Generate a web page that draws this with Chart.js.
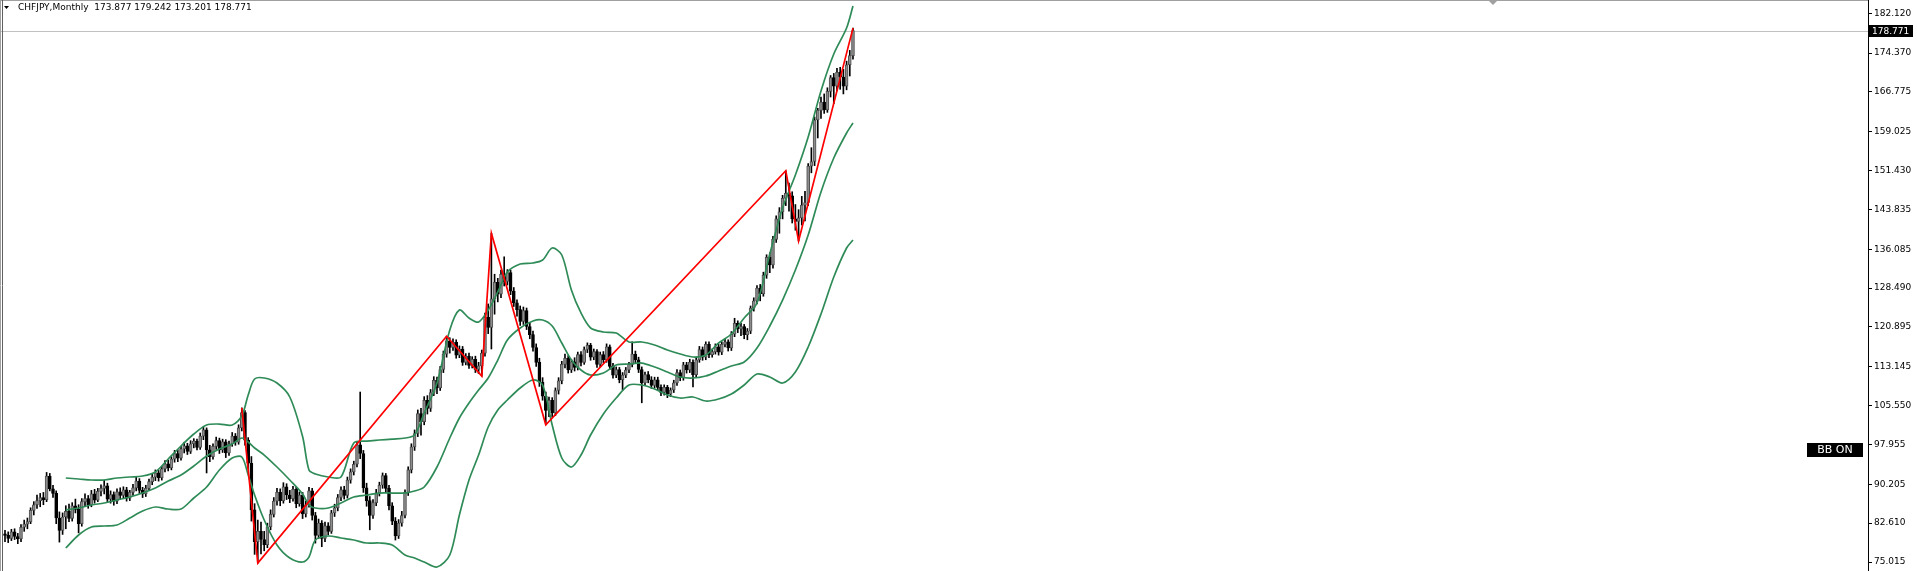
<!DOCTYPE html>
<html>
<head>
<meta charset="utf-8">
<title>CHFJPY,Monthly</title>
<script src="https://cdn.jsdelivr.net/npm/chart.js@4.4.1/dist/chart.umd.min.js"></script>
<style>
  html, body { margin: 0; padding: 0; background: #fff; overflow: hidden; }
  canvas { display: block; }
</style>
</head>
<body>
<canvas id="priceChart" width="1917" height="571"></canvas>
<script>
// CHFJPY monthly candles, bar index 0 (Jan 2002) .. 265 (Jun 2024)
const opens = [
  80.5, 80.2, 79.6, 80.9, 80.0, 79.5, 81.8, 82.4, 82.9, 85.1,
  86.2, 87.0, 87.6, 87.2, 91.8, 89.3, 88.4, 83.6, 81.2, 83.8,
  84.9, 83.5, 86.0, 85.3, 82.5, 86.8, 87.4, 86.2, 88.3, 87.1,
  88.8, 89.4, 89.9, 87.3, 88.2, 86.9, 88.7, 88.0, 89.1, 87.5,
  88.6, 89.5, 90.8, 89.0, 88.3, 89.4, 90.7, 91.6, 92.4, 91.5,
  93.2, 94.2, 93.4, 95.1, 96.2, 95.3, 97.1, 97.7, 96.6, 98.1,
  98.6, 97.4, 99.6, 100.8, 96.9, 95.6, 97.6, 98.7, 96.9, 98.5,
  96.3, 98.1, 99.6, 98.4, 101.2, 104.2, 98.8, 94.3, 85.2, 79.0,
  81.0, 79.4, 78.4, 81.9, 84.3, 86.9, 88.6, 87.0, 89.7, 88.1,
  87.4, 89.2, 86.4, 88.1, 84.4, 86.2, 88.9, 84.1, 80.2, 82.6,
  79.6, 82.1, 81.0, 84.6, 85.6, 87.6, 89.1, 88.0, 91.0, 92.6,
  94.1, 97.9, 96.2, 89.5, 87.0, 84.1, 86.6, 88.5, 90.0, 91.9,
  89.4, 86.0, 83.0, 80.1, 82.6, 84.1, 88.6, 93.0, 97.5, 100.1,
  104.0, 102.4, 106.6, 105.0, 108.1, 110.5, 109.0, 112.6, 115.6, 118.2,
  116.9, 117.9, 115.4, 116.6, 114.0, 115.2, 113.4, 114.6, 112.6, 113.3,
  115.8, 122.8, 120.8, 126.4, 129.6, 127.3, 131.2, 129.8, 131.5, 127.9,
  125.6, 124.3, 122.0, 124.1, 121.0, 119.4, 116.9, 114.0, 110.1, 107.4,
  104.6, 106.6, 104.1, 108.5, 110.4, 113.6, 114.8, 112.5, 114.1, 113.0,
  115.5, 114.0, 116.5, 117.3, 115.0, 116.1, 113.6, 115.5, 114.5, 117.0,
  113.2, 111.5, 112.6, 110.6, 111.5, 112.5, 113.6, 115.6, 114.5, 112.6,
  110.0, 111.6, 110.6, 109.5, 110.6, 109.1, 108.1, 109.1, 107.8, 108.6,
  110.0, 112.0, 111.0, 113.5, 112.5, 114.0, 111.6, 114.5, 116.5, 115.0,
  117.5, 115.5, 116.1, 117.0, 116.0, 117.5, 118.0, 116.8, 119.5, 121.6,
  120.5, 121.0, 119.4, 120.1, 124.6, 126.0, 128.5, 127.4, 131.0, 134.5,
  133.0, 138.0, 142.0, 143.4, 146.0, 147.0, 146.5, 142.0, 141.5, 142.2,
  144.7, 145.2, 152.3, 153.2, 161.3, 163.2, 164.8, 163.3, 166.9, 169.6,
  167.9, 170.6, 169.7, 167.9, 172.1, 173.877
];
const highs = [
  81.2, 80.9, 81.4, 81.5, 80.6, 82.3, 83.2, 83.6, 85.6, 86.8,
  88.1, 88.4, 88.6, 92.5, 92.3, 90.0, 88.9, 84.8, 84.6, 86.0,
  86.3, 86.6, 87.3, 86.2, 87.4, 88.3, 88.0, 89.0, 89.2, 89.4,
  90.1, 91.0, 90.4, 88.9, 88.7, 89.3, 89.5, 89.7, 89.6, 89.0,
  90.2, 91.6, 91.3, 89.6, 90.0, 91.2, 92.2, 93.0, 92.9, 93.7,
  94.8, 94.9, 95.6, 96.8, 96.9, 97.6, 98.4, 98.2, 98.7, 99.1,
  99.0, 100.2, 101.4, 101.2, 97.8, 98.1, 99.4, 99.2, 99.0, 98.9,
  98.6, 100.3, 100.1, 101.8, 105.1, 104.6, 99.3, 95.6, 86.4, 83.2,
  82.8, 81.0, 82.6, 85.2, 87.6, 89.4, 89.3, 90.5, 90.3, 89.0,
  89.8, 89.7, 88.7, 88.6, 86.9, 89.6, 89.4, 84.7, 83.4, 83.1,
  82.8, 82.7, 85.1, 86.3, 88.2, 89.7, 89.8, 91.6, 93.2, 94.7,
  98.4, 108.2, 96.8, 90.4, 87.8, 87.2, 89.2, 90.6, 92.4, 92.3,
  90.0, 86.6, 83.7, 83.3, 84.9, 89.1, 93.6, 98.1, 100.8, 104.7,
  105.0, 107.3, 107.5, 108.7, 111.2, 111.1, 113.2, 116.2, 119.1, 118.8,
  118.6, 118.4, 117.2, 117.1, 115.7, 115.8, 115.1, 115.2, 114.0, 116.4,
  123.6, 125.4, 139.2, 131.2, 130.4, 132.0, 134.6, 132.1, 132.0, 128.6,
  126.2, 125.0, 124.8, 124.6, 121.8, 120.1, 117.6, 114.8, 111.0, 108.2,
  107.2, 107.1, 109.0, 111.0, 114.2, 115.6, 115.3, 114.6, 114.9, 116.0,
  116.1, 117.0, 117.8, 117.7, 116.6, 116.5, 116.0, 116.1, 117.6, 117.4,
  113.8, 113.1, 113.0, 112.0, 113.0, 114.0, 118.0, 116.2, 115.0, 113.1,
  112.1, 112.2, 111.2, 111.1, 111.1, 109.6, 109.6, 109.5, 109.0, 110.5,
  112.6, 112.5, 114.0, 114.0, 114.6, 114.5, 115.0, 117.1, 117.0, 118.0,
  118.0, 116.6, 117.6, 117.5, 118.0, 118.6, 118.4, 120.0, 122.6, 122.1,
  121.6, 121.4, 120.6, 125.0, 126.6, 129.0, 129.2, 131.6, 135.0, 135.4,
  138.6, 142.6, 144.2, 146.6, 151.4, 149.0, 147.3, 144.8, 143.8, 146.4,
  147.4, 152.8, 155.9, 161.9, 163.6, 165.8, 166.4, 167.6, 170.0, 170.4,
  171.4, 171.6, 171.2, 172.8, 174.9, 179.242
];
const lows = [
  79.0, 78.8, 79.2, 79.4, 78.6, 79.0, 81.0, 81.5, 82.5, 84.2,
  85.5, 85.8, 86.2, 86.8, 88.9, 87.6, 82.5, 78.9, 80.4, 81.5,
  82.9, 83.0, 84.6, 80.7, 82.0, 85.9, 85.5, 85.8, 86.5, 86.8,
  87.9, 88.3, 86.6, 86.5, 86.1, 86.4, 87.2, 87.5, 86.9, 87.0,
  88.0, 88.9, 88.4, 87.6, 87.8, 89.0, 90.1, 90.9, 90.8, 91.0,
  92.6, 92.8, 93.0, 94.5, 94.6, 94.9, 96.3, 96.0, 96.2, 97.3,
  96.9, 97.0, 98.9, 92.4, 94.6, 95.1, 97.0, 96.2, 96.4, 95.4,
  95.8, 97.6, 97.8, 98.0, 100.6, 97.8, 93.2, 83.0, 76.5, 74.8,
  76.6, 77.2, 77.8, 81.3, 83.8, 86.1, 86.0, 86.5, 87.2, 86.6,
  86.9, 85.6, 85.9, 83.5, 83.8, 85.7, 83.2, 78.7, 79.6, 78.0,
  79.0, 80.3, 80.6, 83.9, 85.0, 87.0, 87.3, 87.5, 90.4, 92.0,
  93.6, 95.2, 88.6, 85.9, 81.3, 83.5, 86.0, 87.9, 89.4, 88.7,
  85.2, 82.3, 79.3, 79.6, 82.0, 83.6, 88.0, 92.4, 96.8, 99.5,
  99.8, 101.8, 103.9, 104.4, 107.5, 107.9, 108.5, 112.0, 115.0, 115.8,
  116.3, 114.8, 114.9, 113.4, 113.5, 112.8, 112.9, 112.0, 111.8, 111.3,
  115.2, 119.6, 116.6, 123.4, 125.8, 126.6, 128.9, 129.1, 127.2, 124.9,
  123.0, 121.2, 121.4, 120.4, 118.6, 116.2, 113.2, 109.3, 106.6, 101.8,
  103.4, 103.3, 103.6, 107.8, 109.8, 112.9, 111.9, 112.0, 112.3, 112.5,
  113.3, 113.6, 115.9, 114.4, 114.5, 113.0, 113.1, 113.9, 114.0, 112.6,
  110.9, 111.0, 110.0, 108.6, 111.0, 112.0, 113.1, 113.9, 112.0, 106.1,
  109.5, 110.0, 108.9, 109.0, 108.5, 107.5, 107.6, 107.1, 107.3, 108.1,
  109.5, 110.4, 110.5, 111.9, 112.0, 109.2, 111.1, 114.0, 114.4, 114.5,
  114.9, 115.0, 115.6, 115.4, 115.5, 117.0, 116.2, 116.3, 119.0, 119.8,
  119.2, 118.6, 118.4, 119.6, 124.0, 125.4, 126.0, 126.9, 130.4, 131.5,
  132.4, 137.4, 139.2, 142.0, 144.6, 143.5, 141.2, 139.8, 137.7, 140.8,
  141.6, 144.6, 151.0, 152.4, 157.8, 161.6, 162.6, 162.8, 165.8, 164.5,
  167.0, 167.3, 166.4, 167.2, 169.9, 173.201
];
const closes = [
  80.2, 79.6, 80.9, 80.0, 79.5, 81.8, 82.4, 82.9, 85.1, 86.2,
  87.0, 87.6, 87.2, 91.8, 89.3, 88.4, 83.6, 81.2, 83.8, 84.9,
  83.5, 86.0, 85.3, 82.5, 86.8, 87.4, 86.2, 88.3, 87.1, 88.8,
  89.4, 89.9, 87.3, 88.2, 86.9, 88.7, 88.0, 89.1, 87.5, 88.6,
  89.5, 90.8, 89.0, 88.3, 89.4, 90.7, 91.6, 92.4, 91.5, 93.2,
  94.2, 93.4, 95.1, 96.2, 95.3, 97.1, 97.7, 96.6, 98.1, 98.6,
  97.4, 99.6, 100.8, 96.9, 95.6, 97.6, 98.7, 96.9, 98.5, 96.3,
  98.1, 99.6, 98.4, 101.2, 104.2, 98.8, 94.3, 85.2, 79.0, 81.0,
  79.4, 78.4, 81.9, 84.3, 86.9, 88.6, 87.0, 89.7, 88.1, 87.4,
  89.2, 86.4, 88.1, 84.4, 86.2, 88.9, 84.1, 80.2, 82.6, 79.6,
  82.1, 81.0, 84.6, 85.6, 87.6, 89.1, 88.0, 91.0, 92.6, 94.1,
  97.9, 96.2, 89.5, 87.0, 84.1, 86.6, 88.5, 90.0, 91.9, 89.4,
  86.0, 83.0, 80.1, 82.6, 84.1, 88.6, 93.0, 97.5, 100.1, 104.0,
  102.4, 106.6, 105.0, 108.1, 110.5, 109.0, 112.6, 115.6, 118.2, 116.9,
  117.9, 115.4, 116.6, 114.0, 115.2, 113.4, 114.6, 112.6, 113.3, 115.8,
  122.8, 120.8, 126.4, 129.6, 127.3, 131.2, 129.8, 131.5, 127.9, 125.6,
  124.3, 122.0, 124.1, 121.0, 119.4, 116.9, 114.0, 110.1, 107.4, 104.6,
  106.6, 104.1, 108.5, 110.4, 113.6, 114.8, 112.5, 114.1, 113.0, 115.5,
  114.0, 116.5, 117.3, 115.0, 116.1, 113.6, 115.5, 114.5, 117.0, 113.2,
  111.5, 112.6, 110.6, 111.5, 112.5, 113.6, 115.6, 114.5, 112.6, 110.0,
  111.6, 110.6, 109.5, 110.6, 109.1, 108.1, 109.1, 107.8, 108.6, 110.0,
  112.0, 111.0, 113.5, 112.5, 114.0, 111.6, 114.5, 116.5, 115.0, 117.5,
  115.5, 116.1, 117.0, 116.0, 117.5, 118.0, 116.8, 119.5, 121.6, 120.5,
  121.0, 119.4, 120.1, 124.6, 126.0, 128.5, 127.4, 131.0, 134.5, 133.0,
  138.0, 142.0, 143.4, 146.0, 147.0, 146.5, 142.0, 141.5, 142.2, 144.7,
  145.2, 152.3, 153.2, 161.3, 163.2, 164.8, 163.3, 166.9, 169.6, 167.9,
  170.6, 169.7, 167.9, 172.1, 173.877, 178.771
];

// Bollinger Bands (20) at these bar indexes
const bbIndex = [
  19, 23, 27, 31, 35, 39, 43, 47, 51, 55,
  59, 63, 67, 71, 74, 76, 78, 81, 85, 89,
  93, 95, 97, 101, 105, 109, 113, 117, 121, 125,
  128, 131, 135, 139, 142, 145, 148, 151, 154, 157,
  161, 165, 168, 171, 174, 177, 180, 183, 187, 191,
  195, 199, 203, 207, 211, 215, 219, 223, 227, 231,
  235, 239, 243, 247, 251, 255, 259, 263, 265
];
const bbUpper = [
  91.41, 91.22, 91.02, 91.02, 91.41, 91.61, 91.80, 92.59, 95.12, 97.66,
  100.00, 101.76, 101.95, 101.76, 103.52, 107.62, 110.74, 110.94, 109.96, 107.23,
  99.5, 92.97, 92.19, 91.61, 91.61, 98.24, 98.63, 98.83, 99.02, 99.22,
  99.8, 104.10, 109.96, 120.31, 124.21, 122.65, 121.87, 124.21, 127.73, 131.63,
  133.19, 133.39, 133.97, 136.32, 134.95, 128.12, 123.63, 120.70, 119.92, 119.72,
  117.97, 117.97, 117.38, 116.40, 115.62, 115.04, 115.43, 117.77, 119.53, 122.65,
  125.58, 135.15, 144.13, 150.57, 157.99, 166.97, 174.19, 179.27, 183.56
];
const bbMiddle = [
  85.16, 85.56, 86.14, 86.53, 87.12, 87.70, 88.48, 89.46, 90.82, 92.00,
  93.75, 95.71, 97.07, 98.05, 99.22, 98.44, 97.27, 95.90, 93.56, 91.02,
  88.29, 86.14, 85.56, 85.56, 86.53, 87.70, 88.09, 88.48, 88.48, 88.48,
  88.87, 89.65, 93.56, 99.22, 103.13, 106.05, 108.59, 110.94, 114.45, 118.35,
  120.70, 122.07, 122.26, 121.09, 117.77, 114.45, 112.50, 111.52, 111.91, 113.47,
  113.67, 113.86, 113.08, 112.11, 111.13, 110.94, 111.33, 112.30, 113.28, 114.06,
  116.79, 121.09, 126.16, 132.02, 138.85, 147.25, 153.89, 158.77, 160.72
];
const bbLower = [
  77.75, 80.29, 81.85, 82.04, 82.24, 83.60, 84.97, 85.75, 85.36, 85.36,
  87.51, 89.65, 92.97, 95.32, 95.51, 92.00, 88.09, 83.21, 78.33, 75.79,
  75.01, 75.99, 79.31, 80.09, 79.70, 79.31, 78.72, 78.72, 78.33, 76.38,
  75.79, 75.01, 74.03, 76.38, 84.19, 91.02, 95.90, 101.37, 104.69, 106.64,
  108.99, 110.55, 109.57, 101.76, 95.32, 93.56, 95.90, 99.81, 103.91, 107.03,
  109.57, 109.57, 108.79, 107.62, 107.03, 107.23, 106.45, 106.84, 107.81, 109.57,
  111.72, 111.13, 109.96, 112.11, 116.99, 123.43, 130.65, 136.32, 137.88
];

// ZigZag pivots
const zzIndex = [74, 79, 138, 149, 152, 169, 244, 248, 265];
const zzValue = [105.1, 74.8, 119.1, 111.3, 139.2, 101.8, 151.4, 137.7, 179.242];

// price scale labels
const priceTicks = [182.120, 174.370, 166.775, 159.025, 151.430, 143.835, 136.085, 128.490,
  120.895, 113.145, 105.550, 97.955, 90.205, 82.610, 75.015];

const symbolName = 'CHFJPY,Monthly';
const bbTag = 'BB ON';

const FONT = '"DejaVu Sans", sans-serif';
const last = closes.length - 1;

const bodies = opens.map((o, i) => ({ x: i, y: [Math.min(o, closes[i]), Math.max(o, closes[i])] }));
const wicks = highs.map((h, i) => ({ x: i, y: [lows[i], h] }));
function points(xs, ys) {
  return xs.map((x, i) => ({ x: x, y: ys[i] }));
}

// terminal-like frame, title, bid line and labels
const terminalDecor = {
  id: 'terminalDecor',
  beforeDraw(chart) {
    const ctx = chart.ctx;
    ctx.save();
    ctx.fillStyle = '#ffffff';
    ctx.fillRect(0, 0, chart.width, chart.height);
    ctx.restore();
  },
  beforeDatasetsDraw(chart) {
    const ctx = chart.ctx;
    const area = chart.chartArea;
    const yb = Math.round(chart.scales.y.getPixelForValue(closes[last])) + 0.5;
    ctx.save();
    ctx.strokeStyle = '#c0c0c0';
    ctx.lineWidth = 1;
    ctx.beginPath();
    ctx.moveTo(0, yb);
    ctx.lineTo(area.right, yb);
    ctx.stroke();
    ctx.restore();
  },
  afterDraw(chart) {
    const ctx = chart.ctx;
    const area = chart.chartArea;
    const yScale = chart.scales.y;
    ctx.save();

    // frame
    ctx.lineWidth = 1;
    ctx.strokeStyle = '#a0a0a0';
    ctx.beginPath();
    ctx.moveTo(0, 0.5);
    ctx.lineTo(area.right, 0.5);
    ctx.moveTo(0.5, 0);
    ctx.lineTo(0.5, chart.height);
    ctx.stroke();
    ctx.strokeStyle = '#606060';
    ctx.beginPath();
    ctx.moveTo(2.5, 0);
    ctx.lineTo(2.5, chart.height);
    ctx.stroke();

    // shift marker
    ctx.fillStyle = '#a0a0a0';
    ctx.beginPath();
    ctx.moveTo(1489, 1);
    ctx.lineTo(1497, 1);
    ctx.lineTo(1493, 5);
    ctx.closePath();
    ctx.fill();

    // title
    ctx.fillStyle = '#000';
    ctx.beginPath();
    ctx.moveTo(4, 6);
    ctx.lineTo(9, 6);
    ctx.lineTo(6.5, 9);
    ctx.closePath();
    ctx.fill();
    ctx.font = '9px ' + FONT;
    ctx.textBaseline = 'middle';
    ctx.textAlign = 'left';
    const title = symbolName + '  ' + opens[last].toFixed(3) + ' ' + highs[last].toFixed(3) + ' ' +
      lows[last].toFixed(3) + ' ' + closes[last].toFixed(3);
    ctx.fillText(title, 18, 8);

    // bid label
    const yb = Math.round(yScale.getPixelForValue(closes[last]));
    ctx.fillStyle = '#000';
    ctx.fillRect(area.right + 1, yb - 6, 44, 12);
    ctx.fillStyle = '#fff';
    ctx.fillText(closes[last].toFixed(3), area.right + 4, yb + 0.5);

    // BB ON tag
    ctx.fillStyle = '#000';
    ctx.fillRect(1807, 443, 56, 14);
    ctx.fillStyle = '#fff';
    ctx.font = '11px ' + FONT;
    ctx.textAlign = 'center';
    ctx.fillText(bbTag, 1835, 450.5);

    ctx.restore();
  }
};

const ctx = document.getElementById('priceChart').getContext('2d');
const priceChart = new Chart(ctx, {
  type: 'bar',
  data: {
    datasets: [
      {
        type: 'line',
        label: 'ZigZag',
        data: points(zzIndex, zzValue),
        borderColor: '#ff0000',
        borderWidth: 1.7,
        pointRadius: 0,
        tension: 0,
        order: 0
      },
      {
        type: 'line',
        label: 'BB upper',
        data: points(bbIndex, bbUpper),
        borderColor: '#2e8b57',
        borderWidth: 1.7,
        pointRadius: 0,
        tension: 0.3,
        order: 1
      },
      {
        type: 'line',
        label: 'BB middle',
        data: points(bbIndex, bbMiddle),
        borderColor: '#2e8b57',
        borderWidth: 1.7,
        pointRadius: 0,
        tension: 0.3,
        order: 2
      },
      {
        type: 'line',
        label: 'BB lower',
        data: points(bbIndex, bbLower),
        borderColor: '#2e8b57',
        borderWidth: 1.7,
        pointRadius: 0,
        tension: 0.3,
        order: 3
      },
      {
        label: 'body',
        data: bodies,
        backgroundColor: function(c) {
          return closes[c.dataIndex] >= opens[c.dataIndex] ? '#8c8c8c' : '#000000';
        },
        borderColor: function(c) {
          return closes[c.dataIndex] >= opens[c.dataIndex] ? '#505050' : '#000000';
        },
        borderWidth: 1,
        borderSkipped: false,
        barThickness: 3,
        grouped: false,
        order: 4
      },
      {
        label: 'wick',
        data: wicks,
        backgroundColor: '#000000',
        borderWidth: 0,
        barThickness: 1,
        grouped: false,
        order: 5
      }
    ]
  },
  options: {
    responsive: false,
    animation: false,
    devicePixelRatio: 1,
    events: [],
    layout: { padding: { left: 3, right: 0, top: 0, bottom: 0 } },
    plugins: {
      legend: { display: false },
      tooltip: { enabled: false }
    },
    scales: {
      x: {
        type: 'linear',
        min: -0.625,
        max: 582.2,
        offset: false,
        display: false
      },
      y: {
        position: 'right',
        min: 73.258,
        max: 184.736,
        afterBuildTicks: function(scale) {
          scale.ticks = priceTicks.map(v => ({ value: v }));
        },
        afterFit: function(scale) {
          scale.width = 49;
          scale.paddingTop = 0;
          scale.paddingBottom = 0;
        },
        ticks: {
          autoSkip: false,
          color: '#000',
          padding: 2,
          font: { family: FONT, size: 9 },
          callback: v => Number(v).toFixed(3)
        },
        grid: {
          drawOnChartArea: false,
          drawTicks: true,
          tickLength: 4,
          color: '#000'
        },
        border: { display: true, color: '#000' }
      }
    }
  },
  plugins: [terminalDecor]
});
</script>
</body>
</html>
